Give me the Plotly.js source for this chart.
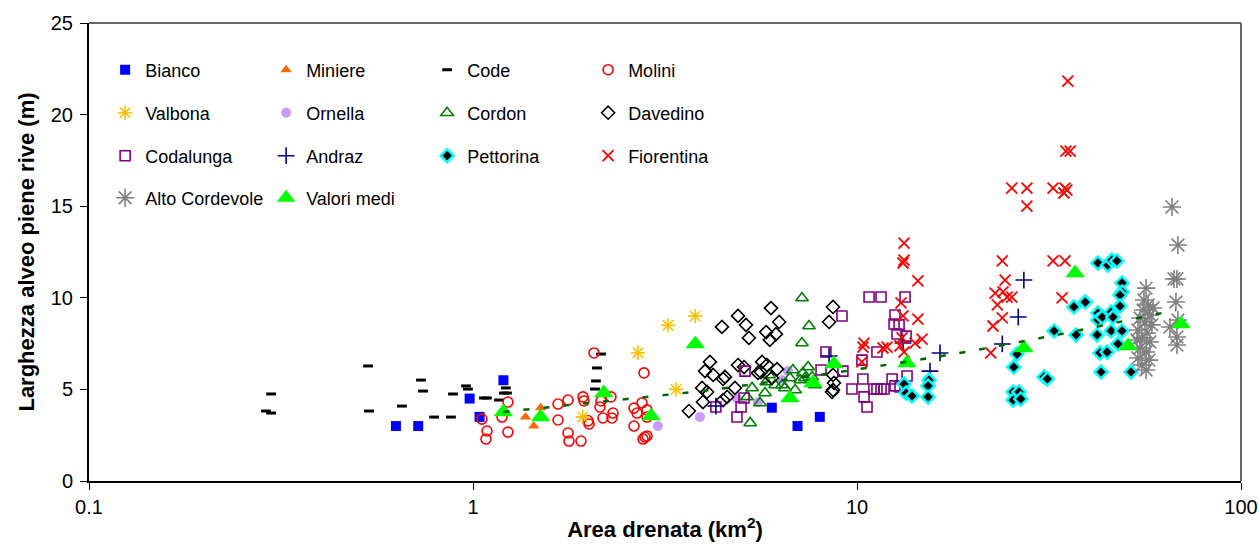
<!DOCTYPE html>
<html>
<head>
<meta charset="utf-8">
<script src="https://cdn.plot.ly/plotly-3.0.1.min.js"></script>
<style>html,body{margin:0;padding:0;background:#fff;}#chart{width:1259px;height:548px;}</style>
</head>
<body>
<div id="chart"></div>
<script>
// ---- data (x = area km2, y = width m) ----
const biancoX = [0.63,0.72,0.98,1.04,1.2,6.0,7.0,8.0];
const biancoY = [3,3,4.5,3.5,5.5,4,3,3.5];

const miniereX = [1.37,1.44,1.5];
const miniereY = [3.5,3,4];

const codeX = [0.298,0.289,0.298,0.533,0.536,0.653,0.732,0.741,0.792,0.876,0.887,0.959,0.97,1.068,1.087,1.169,1.204,1.226,1.218,2.154,2.103,2.09,2.078];
const codeY = [4.75,3.82,3.71,6.28,3.82,4.09,5.51,4.91,3.49,3.49,4.75,5.19,5.02,4.53,4.53,4.42,4.8,4.8,5.08,6.93,6.17,5.46,5.02];

const moliniX = [1.055,1.088,1.081,1.19,1.233,1.233,1.665,1.768,1.665,1.768,1.778,1.911,1.934,1.946,1.994,2.006,2.141,2.154,2.287,2.315,2.301,2.18,2.066,2.788,2.755,2.626,2.674,2.839,2.839,2.626,2.805,2.772,2.839];
const moliniY = [3.38,2.73,2.29,3.49,4.31,2.67,4.2,4.42,3.33,2.62,2.18,2.18,4.59,4.37,3.28,3.11,4.04,4.37,4.59,3.71,3.44,3.44,6.99,5.9,4.26,3.98,3.71,3.88,3.49,3.0,2.4,2.29,2.46];

const valbonaX = [1.93,2.69,3.22,3.38,3.79];
const valbonaY = [3.5,7,8.5,5,9];

const ornellaX = [3.03,3.9,4.87,5.52,6.38,6.61];
const ornellaY = [3,3.5,4.5,4.3,5.5,6];

const cordonX = [5.27,7.19,7.5,7.19,5.33,5.17,5.59,5.76,5.8,5.9,6.12,6.81,6.9,7.11,7.32,7.46,7.64,7.23,6.49,6.69,7.77,6.38];
const cordonY = [3.17,9.99,8.46,7.53,5.08,4.59,4.26,4.8,5.4,5.79,5.24,6.06,4.97,5.51,5.62,6.22,5.68,5.9,5.08,5.62,5.24,5.24];

const davedinoX = [3.65,3.97,3.95,4.07,4.02,4.14,4.22,4.45,4.48,4.53,4.48,4.59,4.81,4.9,5.14,5.23,4.9,5.08,5.52,5.66,5.83,6.19,5.62,6.0,5.97,6.27,5.8,6.15,5.93,8.66,8.46,8.66,8.71,8.66,8.61];
const davedinoY = [3.82,4.31,5.08,4.86,6.0,6.5,5.79,8.41,5.57,5.68,4.42,4.59,5.08,9.01,8.52,7.81,6.33,6.22,5.9,6.5,6.33,6.11,5.95,5.62,9.44,8.68,8.13,8.02,7.7,9.5,8.68,5.79,5.35,4.97,4.86];

const codalungaX = [4.29,4.87,4.99,5.08,5.11,9.14,8.3,8.06,9.19,9.7,10.36,10.43,10.62,10.75,11.55,13.34,12.56,12.49,12.87,12.71,13.42,11.27,11.07,11.27,11.55,11.76,12.34,12.56,12.94,13.5,10.3];
const codalungaY = [4.04,3.49,4.04,4.53,6.0,9.01,7.04,6.06,6.0,5.02,5.57,4.59,4.04,10.04,10.04,10.04,9.06,8.57,8.52,8.02,7.91,7.04,5.02,5.02,5.02,5.02,5.57,5.19,5.13,5.73,6.6];

const andrazX = [4.29,8.46,16.45,15.49,27.2,26.3,23.9,13.18];
const andrazY = [4.09,6.82,6.99,6.0,10.97,8.95,7.48,7.53];

const pettorinaX = [13.26,13.42,13.91,15.4,15.31,15.31,26.1,25.6,30.7,31.3,25.5,26.4,25.5,26.7,32.6,37.2,36.7,39.3,42.4,45.0,46.1,47.5,49.0,49.0,48.4,48.4,42.4,42.4,43.5,45.9,46.4,42.2,45.9,49.0,47.8,42.9,44.8,43.2,51.7];
const pettorinaY = [5.29,4.8,4.64,5.51,5.19,4.59,6.93,6.22,5.68,5.57,4.86,4.86,4.42,4.48,8.19,7.97,9.5,9.77,11.9,11.79,12.06,12.01,10.81,10.32,10.15,9.55,9.17,8.79,8.95,9.22,8.95,7.97,8.19,8.19,7.48,6.99,7.04,5.95,5.95];

const fiorentinaX = [13.26,13.26,13.18,14.41,13.02,13.18,14.41,14.77,14.16,13.1,12.94,13.26,11.97,11.69,10.43,10.36,10.3,35.4,35.0,35.9,25.3,27.7,32.4,34.8,35.2,34.6,27.7,23.9,32.4,34.8,24.3,22.9,24.0,24.6,25.3,23.2,34.2,23.9,22.6,22.3];
const fiorentinaY = [12.99,12.06,11.9,10.92,9.72,9.01,8.84,7.75,7.53,7.81,7.37,7.04,7.31,7.26,7.53,7.31,6.5,21.83,18.01,18.01,15.99,15.99,15.99,15.99,15.88,15.72,15.01,12.01,12.01,12.01,10.97,10.26,10.32,10.04,10.04,9.61,9.99,8.9,8.46,6.99];

const altoX = [56.6,57.3,55.6,57.9,54.6,56.2,58.6,53.9,56.9,55.2,57.9,54.6,56.6,53.9,57.6,55.2,56.6,53.6,59.0,55.9,66.1,68.5,66.9,68.1,67.7,65.3,68.5,68.1,68.1];
const altoY = [10.53,9.61,9.33,9.06,8.9,8.68,8.52,8.24,8.08,7.81,7.59,7.26,7.04,6.71,6.6,6.33,6.06,7.7,9.44,9.88,14.96,12.88,11.03,11.03,9.77,8.41,8.79,7.86,7.42];

const mediX = [1.2,1.5,2.19,2.91,3.79,6.69,7.68,8.71,13.5,27.2,37.0,50.8,69.8];
const mediY = [3.77,3.49,4.8,3.55,7.48,4.53,5.35,6.39,6.44,7.26,11.35,7.37,8.57];

// dashed trend line
const trendX = [1.2,2.25,4.14,9.76,17.8,33.0,67.7];
const trendY = [3.77,4.37,4.97,6.06,6.93,7.97,9.33];

const FONT = 'Liberation Sans, Arial, sans-serif';

function sc(name, x, y, legend, marker){
  return {type:'scatter', mode:'markers', name:name, x:x, y:y, legend:legend, marker:marker, cliponaxis:false};
}

const traces = [
  sc('Bianco', biancoX, biancoY, 'legend', {symbol:'square', color:'#0000FF', size:10}),
  sc('Miniere', miniereX, miniereY, 'legend', {symbol:'triangle-up', color:'#FF6600', size:10}),
  sc('Code', codeX, codeY, 'legend', {symbol:'line-ew', size:7, color:'#000', line:{color:'#000', width:3}}),
  sc('Molini', moliniX, moliniY, 'legend', {symbol:'circle-open', color:'#FF0000', size:10, line:{width:1.6}}),
  sc('Valbona', valbonaX, valbonaY, 'legend2', {symbol:'asterisk-open', color:'#FFC000', size:12, line:{color:'#FFC000', width:1.6}}),
  sc('Ornella', ornellaX, ornellaY, 'legend2', {symbol:'circle', color:'#CC99FF', size:10}),
  sc('Cordon', cordonX, cordonY, 'legend2', {symbol:'triangle-up-open', color:'#008000', size:11, line:{width:1.6}}),
  sc('Davedino', davedinoX, davedinoY, 'legend2', {symbol:'diamond-open', color:'#000000', size:10, line:{width:1.6}}),
  sc('Codalunga', codalungaX, codalungaY, 'legend3', {symbol:'square-open', color:'#800080', size:10, line:{width:1.6}}),
  sc('Andraz', andrazX, andrazY, 'legend3', {symbol:'cross-thin-open', color:'#000080', size:12, line:{color:'#000080', width:1.6}}),
  sc('Pettorina', pettorinaX, pettorinaY, 'legend3', {symbol:'diamond', color:'#000000', size:10, line:{color:'#00FFFF', width:2.5}}),
  sc('Fiorentina', fiorentinaX, fiorentinaY, 'legend3', {symbol:'x-thin-open', color:'#FF0000', size:11, line:{color:'#FF0000', width:1.8}}),
  sc('Alto Cordevole', altoX, altoY, 'legend4', {symbol:'asterisk-open', color:'#808080', size:15, line:{color:'#808080', width:1.6}}),
  sc('Valori medi', mediX, mediY, 'legend4', {symbol:'triangle-up', color:'#00FF00', size:17}),
  {type:'scatter', mode:'lines', x:trendX, y:trendY, showlegend:false, hoverinfo:'skip',
   line:{color:'#006400', width:2.5, dash:'6px,14px', shape:'spline', smoothing:0.8}}
];

function leg(y){
  return {orientation:'h', x:0.014, xanchor:'left', y:y, yanchor:'middle',
          entrywidth:116, entrywidthmode:'pixels', font:{family:FONT, size:18, color:'#000'},
          bgcolor:'rgba(0,0,0,0)', borderwidth:0, itemsizing:'trace', traceorder:'normal'};
}

const layout = {
  width:1259, height:548,
  margin:{l:89, r:18, t:23, b:67, pad:0},
  paper_bgcolor:'#fff', plot_bgcolor:'#fff',
  font:{family:FONT, color:'#000'},
  showlegend:true,
  legend: leg((481-70)/458),
  legend2: leg((481-113)/458),
  legend3: leg((481-156)/458),
  legend4: leg((481-198)/458),
  xaxis:{type:'log', range:[-1,2], tickvals:[0.1,1,10,100], ticktext:['0.1','1','10','100'],
         ticks:'outside', ticklen:7, tickwidth:1, tickcolor:'#000', showgrid:false, zeroline:false,
         showline:true, linecolor:'#000', linewidth:2, tickfont:{family:FONT, size:20, color:'#000'},
         title:{text:'<b>Area drenata (km<sup>2</sup>)</b>', font:{family:FONT, size:22, color:'#000'}, standoff:5}},
  yaxis:{range:[0,25], dtick:5, tick0:0, ticks:'outside', ticklen:7, tickwidth:1, tickcolor:'#000',
         showgrid:false, zeroline:false, showline:true, linecolor:'#000', linewidth:2,
         tickfont:{family:FONT, size:20, color:'#000'}, ticklabelstandoff:3,
         title:{text:'<b>Larghezza alveo piene rive (m)</b>', font:{family:FONT, size:22, color:'#000'}, standoff:10}},
  shapes:[
    {type:'line', xref:'paper', yref:'paper', x0:0, x1:1, y0:1, y1:1, line:{color:'#666', width:2}},
    {type:'line', xref:'paper', yref:'paper', x0:1, x1:1, y0:0, y1:1, line:{color:'#666', width:2}}
  ]
};

Plotly.newPlot('chart', traces, layout, {displayModeBar:false, staticPlot:true});
</script>
</body>
</html>
